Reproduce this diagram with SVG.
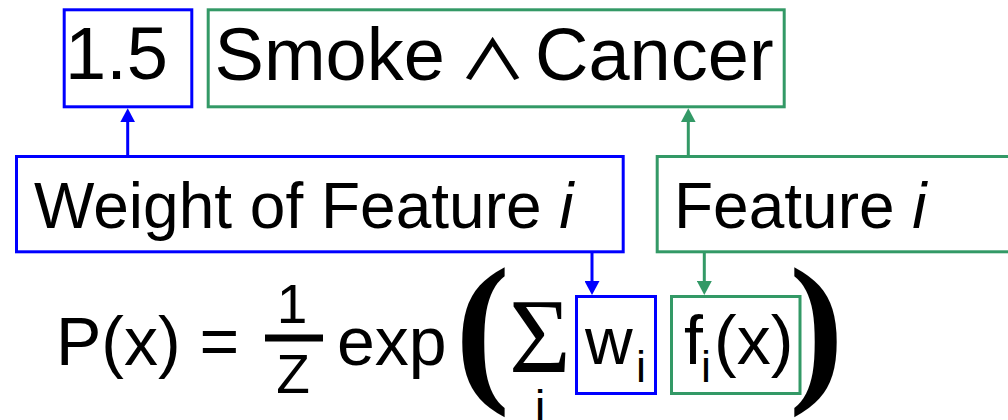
<svg xmlns="http://www.w3.org/2000/svg" width="1008" height="420" viewBox="0 0 1008 420">
  <style>
    .t { font-family: "Liberation Sans", Arial, sans-serif; fill: #000; }
    .blue { fill: none; stroke: #0000FF; stroke-width: 3; }
    .green { fill: none; stroke: #339966; stroke-width: 3; }
    .cb { stroke: #0000FF; stroke-width: 3; fill: none; }
    .cg { stroke: #339966; stroke-width: 3; fill: none; }
    .serif { font-family: "Liberation Serif", "Times New Roman", serif; fill: #000; }
  </style>
  <defs>
    <marker id="ab" markerUnits="userSpaceOnUse" markerWidth="15" markerHeight="15" refX="2" refY="7.5" orient="auto">
      <path d="M0,0 L14,7.5 L0,15 z" fill="#0000FF"/>
    </marker>
    <marker id="ag" markerUnits="userSpaceOnUse" markerWidth="15" markerHeight="15" refX="2" refY="7.5" orient="auto">
      <path d="M0,0 L14,7.5 L0,15 z" fill="#339966"/>
    </marker>
  </defs>
  <rect x="0" y="0" width="1008" height="420" fill="#fff"/>

  <g id="weight-value">
    <rect class="blue" x="64.2" y="9.8" width="127.6" height="97"/>
    <text class="t" x="65" y="79" font-size="74">1.5</text>
  </g>
  <g id="formula-feature">
    <rect class="green" x="208.2" y="9.8" width="576" height="97"/>
    <text class="t" x="214.6" y="80" font-size="74">Smoke</text>
    <text transform="translate(492.5,78.5) scale(1.25,1)" x="0" y="0" font-size="55" font-weight="500" text-anchor="middle" style="font-family:'Noto Sans CJK JP',sans-serif">∧</text>
    <text class="t" x="535" y="80" font-size="74">Cancer</text>
  </g>
  <g id="weight-label">
    <rect class="blue" x="16.5" y="156.5" width="606.7" height="95.3"/>
    <text class="t" x="34" y="228" font-size="64">Weight of Feature <tspan font-style="italic">i</tspan></text>
  </g>
  <g id="feature-label">
    <rect class="green" x="657.2" y="156.5" width="400" height="95.3"/>
    <text class="t" x="674" y="228" font-size="64">Feature <tspan font-style="italic">i</tspan></text>
  </g>
  <g id="formula">
    <text class="t" x="56" y="365" font-size="68">P(x) =</text>
    <text class="t" x="292" y="323" font-size="55" text-anchor="middle">1</text>
    <rect x="265" y="334.5" width="58" height="7" fill="#000"/>
    <text class="t" x="293" y="393" font-size="55" text-anchor="middle">Z</text>
    <text class="t" x="337" y="365" font-size="68">exp</text>
    <text class="serif" x="455" y="382" font-size="165" font-weight="bold">(</text>
    <text class="serif" x="509" y="372" font-size="106">Σ</text>
    <text class="t" x="540" y="424" font-size="48" text-anchor="middle">i</text>
    <text class="serif" x="789" y="382" font-size="165" font-weight="bold">)</text>
  </g>
  <g id="w-term">
    <rect class="blue" x="576.5" y="296.5" width="79" height="97"/>
    <text class="t" x="585" y="363.5" font-size="66">w</text>
    <text class="t" x="636" y="381.7" font-size="45">i</text>
  </g>
  <g id="f-term">
    <rect class="green" x="671.5" y="296.5" width="128.5" height="97"/>
    <text class="t" x="684" y="363.5" font-size="68">f</text>
    <text class="t" x="701" y="381.7" font-size="45">i</text>
    <text class="t" x="714" y="363.5" font-size="68">(x)</text>
  </g>
  <g id="connectors">
    <line class="cb" x1="127.7" y1="156" x2="127.7" y2="120.3" marker-end="url(#ab)"/>
    <line class="cg" x1="688.3" y1="156" x2="688.3" y2="120.3" marker-end="url(#ag)"/>
    <line class="cb" x1="592" y1="252" x2="592" y2="283" marker-end="url(#ab)"/>
    <line class="cg" x1="704.3" y1="252" x2="704.3" y2="283" marker-end="url(#ag)"/>
  </g>
</svg>
